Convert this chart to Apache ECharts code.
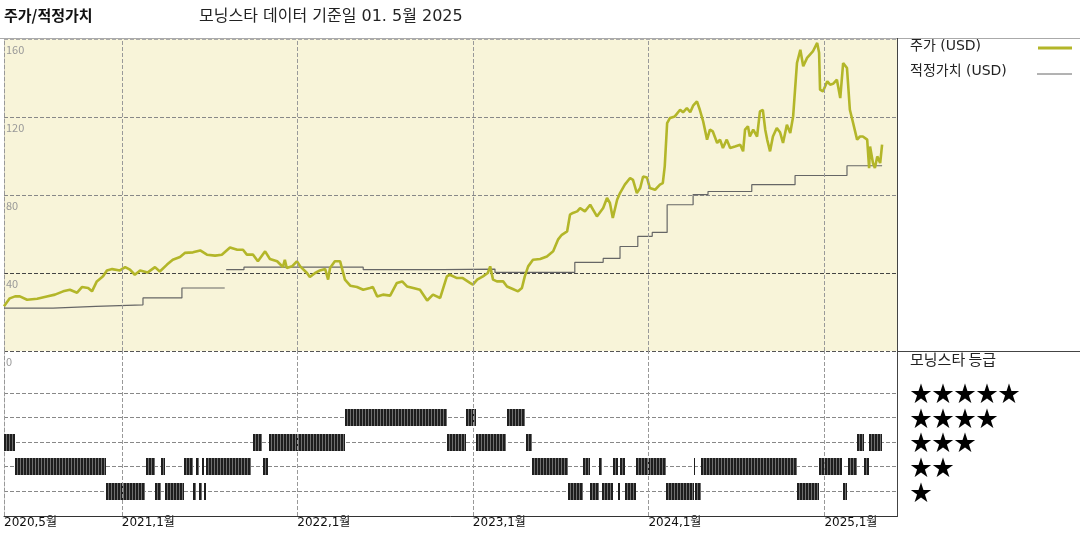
<!DOCTYPE html>
<html><head><meta charset="utf-8">
<script src="https://cdn.jsdelivr.net/npm/echarts@6/dist/echarts.min.js"></script>
<style>html,body{margin:0;padding:0;background:#fff}#c{width:1080px;height:540px}</style>
</head><body><div id="c"></div>
<script>
const FONT = '"Noto Sans CJK KR", "Noto Sans", sans-serif';
const WFONT = '"DejaVu Sans", "Noto Sans CJK KR", sans-serif';

const priceDates = ['2020-05-01','2020-05-13','2020-05-24','2020-06-03','2020-06-18','2020-07-09','2020-07-29','2020-08-15','2020-09-01','2020-09-15','2020-09-30','2020-10-10','2020-10-23','2020-10-31','2020-11-10','2020-11-23','2020-12-01','2020-12-12','2020-12-28',
'2021-01-08','2021-01-18','2021-01-28','2021-02-08','2021-02-24','2021-03-11','2021-03-21','2021-04-05','2021-04-17','2021-05-02','2021-05-12','2021-05-29','2021-06-13','2021-06-27','2021-07-14','2021-07-28','2021-08-14','2021-08-29','2021-09-10','2021-09-18','2021-10-01','2021-10-11','2021-10-26','2021-11-05','2021-11-20','2021-12-02','2021-12-06','2021-12-10','2021-12-21','2021-12-31',
'2022-01-07','2022-01-21','2022-01-27','2022-02-07','2022-02-17','2022-02-28','2022-03-06','2022-03-10','2022-03-20','2022-03-31','2022-04-10','2022-04-21','2022-05-05','2022-05-18','2022-06-01','2022-06-07','2022-06-16','2022-06-28','2022-07-13','2022-07-27','2022-08-07','2022-08-17','2022-08-30','2022-09-13','2022-09-28','2022-10-10','2022-10-25','2022-11-08','2022-11-14','2022-11-29','2022-12-11','2022-12-26',
'2023-01-01','2023-01-10','2023-01-22','2023-02-01','2023-02-06','2023-02-12','2023-02-20','2023-03-05','2023-03-13','2023-03-25','2023-04-05','2023-04-13','2023-04-19','2023-04-26','2023-05-06','2023-05-21','2023-06-04','2023-06-17','2023-06-27','2023-07-05','2023-07-16','2023-07-22','2023-07-28','2023-08-06','2023-08-12','2023-08-22','2023-09-02','2023-09-16','2023-09-29','2023-10-07','2023-10-13','2023-10-19','2023-10-28','2023-11-03','2023-11-13','2023-11-24','2023-11-30','2023-12-08','2023-12-15','2023-12-21','2023-12-29',
'2024-01-04','2024-01-15','2024-01-25','2024-01-31','2024-02-04','2024-02-09','2024-02-15','2024-02-25','2024-03-07','2024-03-13','2024-03-21','2024-03-28','2024-04-03','2024-04-11','2024-04-17','2024-04-24','2024-05-02','2024-05-08','2024-05-14','2024-05-23','2024-05-29','2024-06-04','2024-06-12','2024-06-19','2024-06-29','2024-07-10','2024-07-16','2024-07-20','2024-07-26','2024-07-30','2024-08-06','2024-08-14','2024-08-20','2024-08-26','2024-08-31','2024-09-04','2024-09-10','2024-09-16','2024-09-24','2024-10-01','2024-10-07','2024-10-15','2024-10-22','2024-10-28','2024-11-01','2024-11-05','2024-11-12','2024-11-18','2024-11-26','2024-12-02','2024-12-08','2024-12-17','2024-12-21','2024-12-23','2024-12-29',
'2025-01-07','2025-01-13','2025-01-19','2025-01-27','2025-02-03','2025-02-09','2025-02-17','2025-02-23','2025-03-01','2025-03-10','2025-03-16','2025-03-22','2025-03-31','2025-04-04','2025-04-06','2025-04-12','2025-04-16','2025-04-21','2025-04-27','2025-05-01'];
const priceValues = [23,27,28,28,26.3,26.8,28,28.9,30.6,31.4,29.9,32.8,32.3,30.6,35.7,38.3,41.3,42,41.3,
43,41.7,39.1,41.3,40.3,43,40.8,44.3,46.8,48.2,50.3,50.6,51.6,49.4,48.9,49.4,53.1,51.9,51.9,49.4,49.4,46,51.1,47.2,46,43.1,46.8,42.6,43.4,46,
43.4,40,37.9,40,41.3,42,36.6,42.6,46,46,36.6,33.5,32.8,31.4,32.3,32.8,28,28.9,28.4,34.9,35.7,33.1,32.3,31.4,25.9,28.9,27.2,38.3,39.1,37.4,37.4,34.9,
34,36.6,38.3,40,43.4,36.6,35.7,35.7,33.1,31.8,30.6,32.3,38.3,43.4,46.8,47.2,48.5,51.1,57.1,59.6,61.3,69.9,70.8,71.6,73.3,71.6,75,69,73.3,78.5,75.9,68.2,77.6,81,85.3,88.7,87.8,81,83.6,89.5,89,
83.6,82.7,85.3,86.1,94.7,116.9,119.5,120.3,123.7,122.4,124.6,122.4,125.8,128,123.7,117.7,108.4,113.5,112.6,106.7,108.4,104.1,108.4,104.1,104.9,105.8,102.4,113.5,115.2,110,113.5,110,122.9,123.7,113.5,108.4,102.4,110,114.4,112,106.7,116,111.8,120.3,134,147.7,154.5,146,150.3,152,153.6,158,153,134,133.1,
138.3,136.6,137,139.1,129.7,147.7,145.1,123.7,117.7,108.4,110,110,108.4,93.8,104.9,96.4,93.8,99.8,96.4,105.8];

const fairDates = ['2020-05-01','2020-08-11','2020-11-08','2021-02-14','2021-05-06','2021-07-30','2021-08-03','2021-08-06','2021-09-12','2022-05-18','2022-10-31','2023-02-16','2023-08-01','2023-09-29','2023-11-03','2023-12-10','2024-01-09','2024-02-09','2024-04-03','2024-05-04','2024-08-03','2024-11-01','2025-02-17','2025-05-01'];
const fairValues = [22,22.9,23.7,27.2,32.3,32.3,null,41.7,43,41.7,42,40.3,45.5,47.5,53.6,58.8,60.8,75,80.2,81.8,85.3,90,95,95];

const ratingStart = ['2020-05-01','2020-05-24','2020-11-30','2021-02-21','2021-03-11','2021-03-23','2021-03-31','2021-05-11','2021-05-30','2021-06-05','2021-06-11','2021-06-16','2021-06-21','2021-06-26','2021-10-01','2021-10-22','2021-11-03','2022-04-11','2022-11-09','2022-12-17','2023-01-08','2023-03-12','2023-04-21','2023-05-05','2023-07-18','2023-08-18','2023-09-01','2023-09-20','2023-09-27','2023-10-20','2023-10-30','2023-11-03','2023-11-13','2023-12-07','2024-02-06','2024-04-05','2024-04-07','2024-04-19','2024-11-06','2024-12-21','2025-02-08','2025-02-19','2025-03-10','2025-03-24','2025-04-04'];
const ratingEnd = ['2020-05-24','2020-11-30','2021-02-19','2021-03-11','2021-03-23','2021-03-31','2021-05-11','2021-05-30','2021-06-05','2021-06-11','2021-06-16','2021-06-21','2021-06-26','2021-09-27','2021-10-20','2021-11-02','2022-04-10','2022-11-08','2022-12-17','2023-01-08','2023-03-10','2023-04-19','2023-05-05','2023-07-18','2023-08-17','2023-09-01','2023-09-20','2023-09-27','2023-10-20','2023-10-30','2023-11-03','2023-11-13','2023-12-07','2024-02-06','2024-04-05','2024-04-07','2024-04-19','2024-11-06','2024-12-21','2025-02-06','2025-02-16','2025-03-09','2025-03-24','2025-04-03','2025-05-01'];
const ratingStars = [3,2,1,2,1,2,1,2,1,2,1,2,1,2,3,2,3,4,3,4,3,4,3,2,1,2,1,2,1,2,1,2,1,2,1,2,1,2,1,2,1,2,3,2,3];

const yearLines = ['2021-01-01','2022-01-01','2023-01-01','2024-01-01','2025-01-01'];
const xLabelDates = ['2020-05-01','2021-01-01','2022-01-01','2023-01-01','2024-01-01','2025-01-01'];
const xLabelTexts = ['2020,5월','2021,1월','2022,1월','2023,1월','2024,1월','2025,1월'];
const starRows = ['★★★★★','★★★★','★★★','★★','★'];
const starValues = [5,4,3,2,1];

function ts(s){const p=s.split('-').map(Number);return new Date(p[0],p[1]-1,p[2]).getTime();}
const xMin = ts('2020-05-01'), xMax = ts('2025-06-01');

const priceData = priceDates.map((d,i)=>[ts(d),priceValues[i]]);
const fairData = fairDates.map((d,i)=>[ts(d),fairValues[i]]);
const ratingData = ratingStart.map((d,i)=>[ts(d),ts(ratingEnd[i]),ratingStars[i]]);
const vLines = yearLines.map(d=>({xAxis: ts(d)}));

const chart = echarts.init(document.getElementById('c'));
const GL = 4, GW = 893;

chart.setOption({
  animation:false,
  backgroundColor:'#fff',
  grid:[
    {left:GL, top:39, width:GW, height:312, show:true, backgroundColor:'#f8f4d9', borderWidth:0},
    {left:GL, top:351, width:GW, height:165, show:false}
  ],
  xAxis:[
    {type:'time', gridIndex:0, min:xMin, max:xMax, axisLine:{show:false}, axisTick:{show:false}, axisLabel:{show:false}, splitLine:{show:false}},
    {type:'time', gridIndex:1, min:xMin, max:xMax, axisLine:{show:true, lineStyle:{color:'#333', width:1}}, axisTick:{show:false},
      splitLine:{show:false}, axisLabel:{show:false}}
  ],
  yAxis:[
    {type:'value', gridIndex:0, min:0, max:160, interval:40,
      axisLine:{show:true, lineStyle:{color:'#999', type:'dashed', width:1}}, axisTick:{show:false},
      axisLabel:{inside:true, color:'#999', fontSize:11, fontFamily:FONT, verticalAlign:'top', align:'left', margin:2, padding:[5,0,0,0]},
      splitLine:{show:true, lineStyle:{type:'dashed', width:1, color:['#555','#444','#888','#888','#aaa']}}},
    {type:'value', gridIndex:1, min:0, max:6.7, interval:1,
      axisLine:{show:true, lineStyle:{color:'#999', type:'dashed', width:1}}, axisTick:{show:false}, axisLabel:{show:false},
      splitLine:{show:true, lineStyle:{type:'dashed', width:1, color:['rgba(0,0,0,0)','#888','#888','#888','#888','#888','rgba(0,0,0,0)']}}}
  ],
  series:[
    {type:'line', name:'주가 (USD)', xAxisIndex:0, yAxisIndex:0, data:priceData, showSymbol:false, z:4,
      lineStyle:{color:'#b3b629', width:2.6}, itemStyle:{color:'#b3b629'},
      markLine:{silent:true, symbol:['none','none'], label:{show:false}, lineStyle:{type:'dashed', color:'#999', width:1}, data:vLines}},
    {type:'line', name:'적정가치 (USD)', xAxisIndex:0, yAxisIndex:0, data:fairData, step:'end', showSymbol:false, z:3,
      lineStyle:{color:'#666', width:1.2}, itemStyle:{color:'#666'}},
    {type:'custom', name:'모닝스타 등급', xAxisIndex:1, yAxisIndex:1, data:ratingData, encode:{x:[0,1], y:2}, z:3,
      renderItem:function(params, api){
        const s = api.coord([api.value(0), api.value(2)]);
        const e = api.coord([api.value(1), api.value(2)]);
        const h = 17;
        const x0 = Math.round(s[0]); const x1 = Math.max(Math.round(e[0]), x0+1);
        const y0 = Math.round(s[1]-h/2);
        const ch = [{type:'rect', shape:{x:x0, y:y0, width:x1-x0, height:h}, style:{fill:'#6f6f6f'}}];
        for (let x=x0; x<x1; x+=3) ch.push({type:'rect', shape:{x:x, y:y0, width:Math.min(2, x1-x), height:h}, style:{fill:'#1e1e1e'}});
        return {type:'group', children:ch};
      },
      markLine:{silent:true, symbol:['none','none'], label:{show:false}, lineStyle:{type:'dashed', color:'#999', width:1}, data:vLines}}
  ]
});

const g = [
  {type:'line', shape:{x1:0, y1:38.5, x2:1080, y2:38.5}, style:{stroke:'#aaa', lineWidth:1}, z:10},
  {type:'line', shape:{x1:897.5, y1:38, x2:897.5, y2:517}, style:{stroke:'#444', lineWidth:1}, z:10},
  {type:'line', shape:{x1:897, y1:351.5, x2:1080, y2:351.5}, style:{stroke:'#444', lineWidth:1}, z:10},
  {type:'text', left:4, top:8, style:{text:'주가/적정가치', font:'bold 15px '+FONT, fill:'#111'}},
  {type:'text', left:199, top:9, style:{text:'모닝스타 데이터 기준일 01. 5월 2025', font:'16px '+WFONT, fill:'#222'}},
  {type:'text', left:910, top:39, style:{text:'주가 (USD)', font:'14px '+WFONT, fill:'#222'}},
  {type:'line', shape:{x1:1038, y1:48, x2:1072, y2:48}, style:{stroke:'#b3b629', lineWidth:3}},
  {type:'text', left:910, top:64, style:{text:'적정가치 (USD)', font:'14px '+WFONT, fill:'#222'}},
  {type:'line', shape:{x1:1037, y1:74, x2:1072, y2:74}, style:{stroke:'#666', lineWidth:1}},
  {type:'text', left:910, top:352, style:{text:'모닝스타 등급', font:'15px '+FONT, fill:'#222'}}
];
xLabelDates.forEach((d,i)=>{
  const px = chart.convertToPixel({xAxisIndex:1}, ts(d));
  g.push({type:'text', x:px, y:517, style:{text:xLabelTexts[i], font:'12px '+WFONT, fill:'#111', textAlign:'left', textVerticalAlign:'top'}});
});
starRows.forEach((s,i)=>{
  const py = chart.convertToPixel({yAxisIndex:1}, starValues[i]);
  g.push({type:'text', x:910, y:py, style:{text:s, font:'22px '+FONT, fill:'#000', textAlign:'left', textVerticalAlign:'middle'}});
});
chart.setOption({graphic:g});
</script></body></html>
